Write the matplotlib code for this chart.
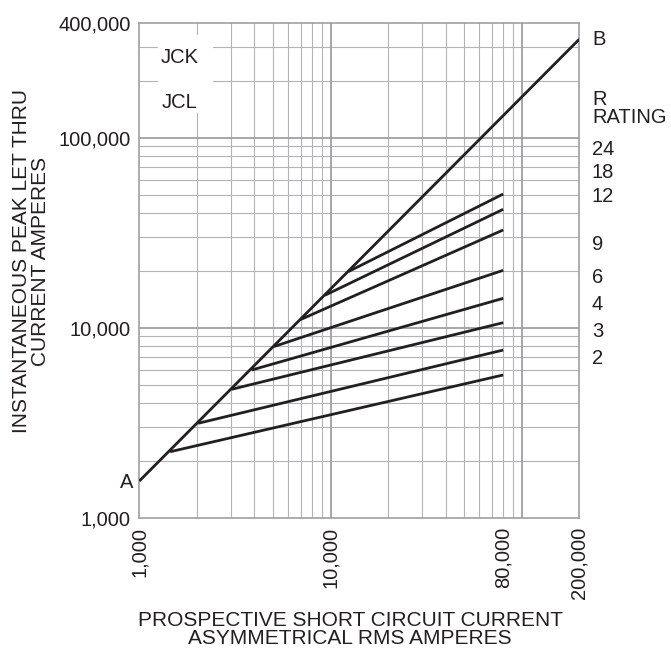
import matplotlib
matplotlib.use('Agg')
import matplotlib.pyplot as plt
from matplotlib.ticker import NullLocator
from matplotlib.patches import Rectangle

plt.rcParams['font.family'] = ['Liberation Sans', 'DejaVu Sans']

# line A-B (maximum peak current)
ab_x = [1000, 200000]
ab_y = [1560, 330000]

# let-thru curves, bottom to top
curve_start_x = [1450, 2030, 3040, 3870, 5060, 6980, 9340, 12360]
curve_start_y = [2225, 3140, 4740, 5990, 7960, 11050, 14810, 19710]
curve_end_x = 80000
curve_end_y = [5640, 7630, 10630, 14280, 20050, 32700, 42000, 50540]

rating_labels = ['24', '18', '12', '9', '6', '4', '3', '2']
label_pos = [0.7336, 0.6865, 0.6392, 0.5415, 0.4753, 0.4201, 0.3649, 0.3109]

x_ticks = [1000, 10000, 80000, 200000]
x_ticklabels = ['1,000', '10,000', '80,000', '200,000']
y_ticks = [1000, 10000, 100000, 400000]
y_ticklabels = ['1,000', '10,000', '100,000', '400,000']

ink = '#231f20'
grid_c = '#b4b4b8'
major_c = '#a0a0a4'

fig = plt.figure(figsize=(6.71, 6.5), dpi=100)
ax = fig.add_axes([0.2076, 0.2035, 0.6557, 0.7606])
ax.set_xscale('log')
ax.set_yscale('log')
ax.set_xlim(1000, 200000)
ax.set_ylim(1000, 400000)

# grid
xminor = [k * 10**e for e in (3, 4) for k in range(2, 10)]
yminor = [k * 10**e for e in (3, 4) for k in range(2, 10)] + [200000, 300000]
for v in xminor:
    ax.axvline(v, color=grid_c, lw=0.8, zorder=1)
for v in yminor:
    ax.axhline(v, color=grid_c, lw=0.8, zorder=1)
for v in (10000, 100000):
    ax.axvline(v, color=major_c, lw=1.3, zorder=1)
    ax.axhline(v, color=major_c, lw=1.3, zorder=1)

# white patch behind the fuse class names
ax.add_patch(Rectangle((0.0425, 0.8186), 0.125, 0.1577, transform=ax.transAxes,
                       facecolor='white', edgecolor='none', zorder=2))
ax.text(0.0925, 0.9191, 'JCK', transform=ax.transAxes, ha='center', va='baseline',
        fontsize=14.5, color=ink, zorder=3)
ax.text(0.0925, 0.8281, 'JCL', transform=ax.transAxes, ha='center', va='baseline',
        fontsize=14.5, color=ink, zorder=3)

# curves
ax.plot(ab_x, ab_y, color=ink, lw=2.0, solid_capstyle='butt', zorder=4)
for sx, sy, ey in zip(curve_start_x, curve_start_y, curve_end_y):
    ax.plot([sx, curve_end_x], [sy, ey], color=ink, lw=2.0,
            solid_capstyle='butt', zorder=4)

for s in ax.spines.values():
    s.set_color(major_c)
    s.set_linewidth(1.2)

ax.set_xticks(x_ticks)
ax.set_xticklabels(x_ticklabels, rotation=90)
ax.set_yticks(y_ticks)
ax.set_yticklabels(y_ticklabels)
ax.xaxis.set_minor_locator(NullLocator())
ax.yaxis.set_minor_locator(NullLocator())
ax.tick_params(axis='x', length=0, pad=6.5, labelsize=14.5, labelcolor=ink)
ax.tick_params(axis='y', length=0, pad=6, labelsize=14.5, labelcolor=ink)

# end labels
ax.text(-0.0136, 0.0595, 'A', transform=ax.transAxes, ha='right', va='baseline',
        fontsize=14.5, color=ink)
ax.text(1.0289, 0.9561, 'B', transform=ax.transAxes, ha='left', va='baseline',
        fontsize=14.5, color=ink)
ax.text(1.0289, 0.8348, 'R', transform=ax.transAxes, ha='left', va='baseline',
        fontsize=14.5, color=ink)
ax.text(1.0289, 0.7988, 'RATING', transform=ax.transAxes, ha='left', va='baseline',
        fontsize=14.5, color=ink)
for lab, p in zip(rating_labels, label_pos):
    ax.text(1.0289, p, lab, transform=ax.transAxes, ha='left', va='baseline',
            fontsize=14.5, color=ink)

fig.text(350 / 671, 1 - 611 / 650,
         'PROSPECTIVE SHORT CIRCUIT CURRENT\nASYMMETRICAL RMS AMPERES',
         ha='center', va='top', multialignment='center', linespacing=0.95,
         fontsize=15, color=ink)
fig.text(31 / 671, 1 - 261 / 650,
         'INSTANTANEOUS PEAK LET THRU\nCURRENT AMPERES',
         ha='center', va='center', multialignment='center', linespacing=0.95,
         rotation=90, fontsize=15, color=ink)

fig.savefig('out.png', dpi=100)
